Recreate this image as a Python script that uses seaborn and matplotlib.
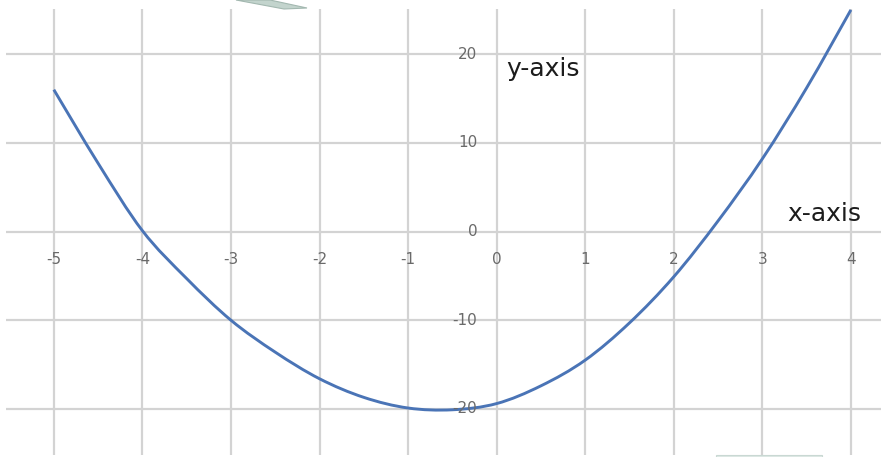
import matplotlib
matplotlib.use("Agg")
import matplotlib.pyplot as plt
from matplotlib.patches import Polygon, PathPatch
from matplotlib.path import Path
import seaborn as sns
import pandas as pd

# Curve samples (x, y)
x_vals = [-5.0, -4.5, -4.0, -3.5, -3.0, -2.5, -2.0, -1.5, -1.0, -0.5,
          0.0, 0.5, 1.0, 1.5, 2.0, 2.5, 3.0, 3.5, 4.0]
y_vals = [16.0, 7.7, 0.1, -5.3, -10.0, -13.6, -16.6, -18.7, -19.9, -20.1,
          -19.4, -17.4, -14.5, -10.3, -5.1, 1.2, 8.2, 16.2, 25.0]

x_ticks = [-5, -4, -3, -2, -1, 0, 1, 2, 3, 4]
y_ticks = [-20, -10, 0, 10, 20]

df = pd.DataFrame({"x": x_vals, "y": y_vals})

sns.set_theme(style="white")
plt.rcParams["font.family"] = ["DejaVu Sans"]

W, H = 881, 457
fig = plt.figure(figsize=(W / 100, H / 100), dpi=100)
fig.patch.set_facecolor("white")

# plot area in pixel terms: left 6, right 881, top 9, bottom 455
ax = fig.add_axes([6 / W, (H - 455) / H, (881 - 6) / W, (455 - 9) / H])
ax.set_xlim(-5.54, 4.34)
ax.set_ylim(-25.2, 25.1)

for s in ax.spines.values():
    s.set_visible(False)
ax.set_xticks(x_ticks)
ax.set_yticks(y_ticks)
ax.tick_params(length=0, labelbottom=False, labelleft=False)
ax.grid(True, color="#d3d3d3", linewidth=1.6)
ax.set_axisbelow(True)

line_color = "#4a74b6"
line_width = 2.1

# seaborn lays out the series; the drawn stroke is a smoothed line
# (Catmull-Rom style Bezier through each sample, like a "smoothed line" chart)
sns.lineplot(data=df, x="x", y="y", ax=ax, color=line_color,
             linewidth=line_width, sort=False, zorder=3)
series_line = ax.get_lines()[-1]
xs, ys = series_line.get_xdata(), series_line.get_ydata()
series_line.set_visible(False)

pts = list(zip(xs, ys))
verts = [pts[0]]
codes = [Path.MOVETO]
n = len(pts)
for i in range(n - 1):
    p0 = pts[max(i - 1, 0)]
    p1 = pts[i]
    p2 = pts[i + 1]
    p3 = pts[min(i + 2, n - 1)]
    c1 = (p1[0] + (p2[0] - p0[0]) / 6, p1[1] + (p2[1] - p0[1]) / 6)
    c2 = (p2[0] - (p3[0] - p1[0]) / 6, p2[1] - (p3[1] - p1[1]) / 6)
    verts += [c1, c2, p2]
    codes += [Path.CURVE4] * 3
ax.add_patch(PathPatch(Path(verts, codes), fill=False, edgecolor=line_color,
                       linewidth=line_width, capstyle="butt",
                       joinstyle="round", zorder=3))
ax.set_xlabel("")
ax.set_ylabel("")

tick_color = "#6a6a6a"
for xv in x_ticks:
    ax.text(xv, -3.1, f"{xv}", ha="center", va="center",
            fontsize=11, color=tick_color, zorder=4)
for yv in y_ticks:
    ax.text(-0.22, yv, f"{yv}", ha="right", va="center",
            fontsize=11, color=tick_color, zorder=4)

ax.text(0.11, 17.55, "y-axis", ha="left", va="baseline",
        fontsize=18, color="#1c1c1c", zorder=5)
ax.text(3.28, 1.2, "x-axis", ha="left", va="baseline",
        fontsize=18, color="#1c1c1c", zorder=5)

# small decorative strokes along the top and bottom edges
def px(xp, yp):
    return (xp / W, 1 - yp / H)

fig.patches.append(Polygon([px(236, 0), px(270, 0), px(307, 8), px(284, 9)],
                           closed=True, transform=fig.transFigure,
                           facecolor="#c3d4cd", edgecolor="#a3b8b0",
                           linewidth=0.8, zorder=6))
fig.patches.append(Polygon([px(716, 457), px(716, 455), px(822, 455), px(822, 457)],
                           closed=True, transform=fig.transFigure,
                           facecolor="#dfe9e6", edgecolor="#c9d8d3",
                           linewidth=0.8, zorder=6))

fig.savefig("out.png", dpi=100, facecolor="white")
